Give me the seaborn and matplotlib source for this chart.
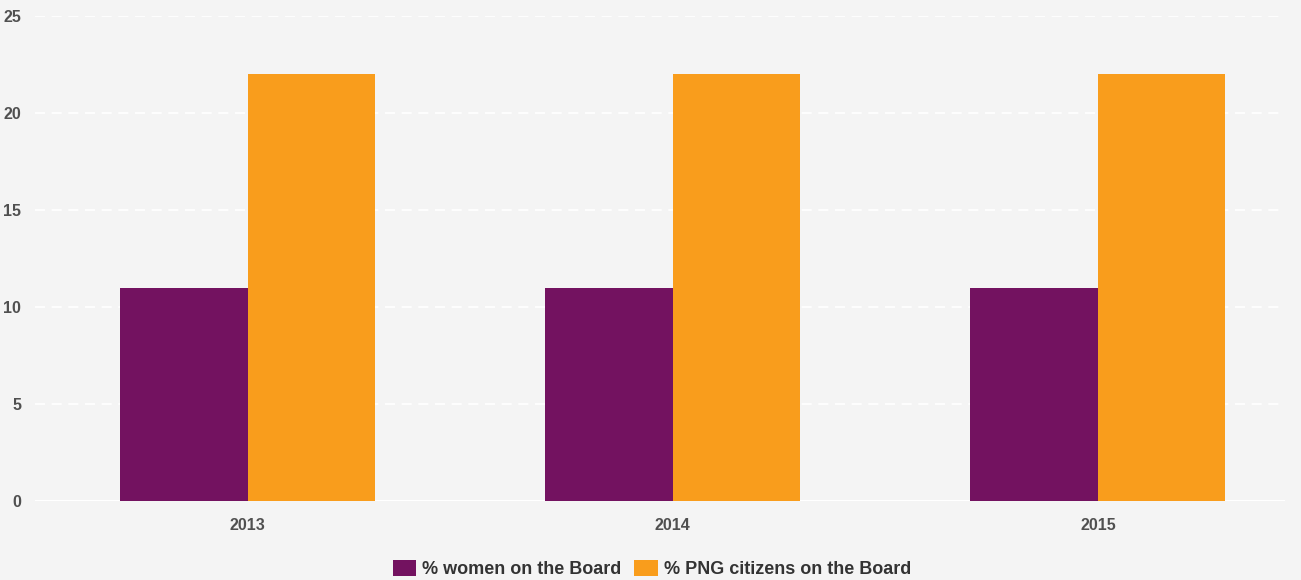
import matplotlib
matplotlib.use("Agg")
import matplotlib.pyplot as plt
import seaborn as sns
import pandas as pd

years = ["2013", "2014", "2015"]
women_pct = [11, 11, 11]
png_citizens_pct = [22, 22, 22]
series_names = ["% women on the Board", "% PNG citizens on the Board"]
y_ticks = [0, 5, 10, 15, 20, 25]

colors = ["#731260", "#f99d1c"]
bg = "#f4f4f4"

df = pd.DataFrame({
    "year": years * 2,
    "value": women_pct + png_citizens_pct,
    "series": [series_names[0]] * len(years) + [series_names[1]] * len(years),
})

sns.set_theme(style="white")
plt.rcParams["font.family"] = ["Liberation Sans", "DejaVu Sans"]

W, H = 1301, 580
fig = plt.figure(figsize=(W / 100, H / 100), dpi=100, facecolor=bg)
ax = fig.add_axes([35 / W, 1 - 501 / H, (1285 - 35) / W, (501 - 16) / H])
ax.set_facecolor(bg)

sns.barplot(data=df, x="year", y="value", hue="series", palette=colors,
            width=0.6, saturation=1, ax=ax, edgecolor="none", linewidth=0,
            legend=True)

ax.set_xlim(-0.5, 2.44)
ax.set_ylim(0, 25)
ax.set_yticks(y_ticks)
ax.set_yticklabels([str(v) for v in y_ticks])
ax.set_xlabel("")
ax.set_ylabel("")

for s in ax.spines.values():
    s.set_visible(False)

ax.set_axisbelow(True)
ax.yaxis.grid(True, color="white", linestyle=(0, (6, 4)), linewidth=1.2)
ax.axhline(0, color="white", linewidth=1.5, zorder=0.5)

ax.tick_params(axis="y", length=0, pad=10, labelsize=11.5, labelcolor="#505050")
ax.tick_params(axis="x", length=0, pad=12, labelsize=11.5, labelcolor="#505050")
for lbl in ax.get_yticklabels() + ax.get_xticklabels():
    lbl.set_fontweight("bold")

handles, labels = ax.get_legend_handles_labels()
ax.legend_.remove()
leg = fig.legend(handles, labels, loc="center", bbox_to_anchor=(652 / W, 1 - 569 / H),
                 ncol=2, frameon=False, handlelength=1.3, handleheight=0.95,
                 handletextpad=0.35, columnspacing=0.7,
                 prop={"size": 13, "weight": "bold"})
for t in leg.get_texts():
    t.set_color("#333333")

fig.savefig("out.png", dpi=100, facecolor=bg)
